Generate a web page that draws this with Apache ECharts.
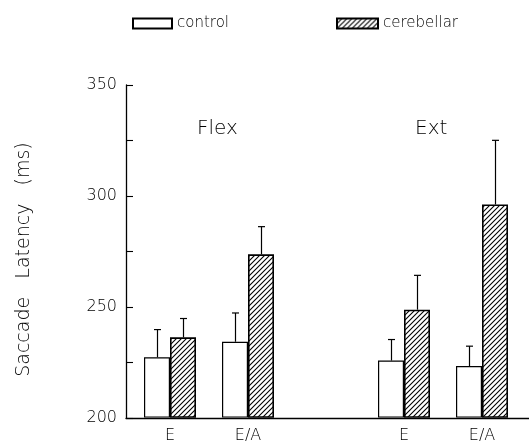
<!DOCTYPE html>
<html>
<head>
<meta charset="utf-8">
<script src="https://cdn.jsdelivr.net/npm/echarts@6/dist/echarts.min.js"></script>
<style>
  html, body { margin: 0; padding: 0; background: #fff; }
  #chart { width: 529px; height: 444px; }
</style>
</head>
<body>
<div id="chart"></div>
<script>
// Categories along the x axis (blank slot separates Flex and Ext groups)
const categories = ['E', 'E/A', '', 'E', 'E/A'];
// Mean saccade latency (ms)
const controlMean    = [227, 234, null, 225.5, 223];
const cerebellarMean = [236, 273.5, null, 248.5, 296];
// Upper end of each error bar (ms)
const controlUpper    = [239.5, 247, null, 235, 232];
const cerebellarUpper = [244.5, 286, null, 264, 325];
// Y axis range; labels every 50 ms, ticks every 25 ms
const yMin = 200, yMax = 350, yTickStep = 25, yLabelStep = 50;

const FONT = 'DejaVu Sans';
const WEIGHT = 200;
const INK = '#000';

// Diagonal hatch pattern for the cerebellar bars
function makeHatch() {
  const s = 5;
  const c = document.createElement('canvas');
  c.width = s; c.height = s;
  const g = c.getContext('2d');
  g.fillStyle = '#fff';
  g.fillRect(0, 0, s, s);
  g.strokeStyle = '#000';
  g.lineWidth = 1.1;
  g.beginPath();
  g.moveTo(-1, s + 1); g.lineTo(s + 1, -1);
  g.moveTo(-1, 1); g.lineTo(1, -1);
  g.moveTo(s - 1, s + 1); g.lineTo(s + 1, s - 1);
  g.stroke();
  return c;
}
const hatch = { image: makeHatch(), repeat: 'repeat' };

const BAR_W = 26;

function errData(means, uppers) {
  const out = [];
  means.forEach((m, i) => { if (m != null) out.push([i, m, uppers[i]]); });
  return out;
}

// Upward-only error bar with a short cap, offset to sit over its bar
function errSeries(means, uppers, dx) {
  return {
    type: 'custom',
    xAxisIndex: 0, yAxisIndex: 0,
    silent: true,
    z: 5,
    data: errData(means, uppers),
    encode: { x: 0, y: [1, 2] },
    renderItem: function (params, api) {
      const a = api.coord([api.value(0), api.value(1)]);
      const b = api.coord([api.value(0), api.value(2)]);
      const x = Math.round(a[0] + dx) + 0.5;
      const st = { stroke: '#000', lineWidth: 1.2 };
      return {
        type: 'group',
        children: [
          { type: 'line', shape: { x1: x, y1: a[1], x2: x, y2: b[1] }, style: st },
          { type: 'line', shape: { x1: x - 3.5, y1: b[1], x2: x + 3.5, y2: b[1] }, style: st }
        ]
      };
    }
  };
}

const textBase = { fontFamily: FONT, fontWeight: WEIGHT, color: INK };

const chart = echarts.init(document.getElementById('chart'), null, { renderer: 'canvas' });

chart.setOption({
  animation: false,
  backgroundColor: '#fff',
  textStyle: textBase,
  grid: [
    { left: 131, width: 390, top: 85, bottom: 26 },
    { left: 126, right: 0, top: 85, bottom: 26 }
  ],
  legend: [
    {
      data: ['control'], left: 127, top: 11, icon: 'rect',
      itemWidth: 39, itemHeight: 10, itemGap: 0,
      textStyle: Object.assign({ fontSize: 15 }, textBase),
      selectedMode: false
    },
    {
      data: ['cerebellar'], left: 331, top: 11, icon: 'rect',
      itemWidth: 41, itemHeight: 10, itemGap: 0,
      textStyle: Object.assign({ fontSize: 15 }, textBase),
      selectedMode: false
    }
  ],
  xAxis: [
    {
      type: 'category', gridIndex: 0, data: categories,
      axisLine: { show: false }, axisTick: { show: false },
      axisLabel: Object.assign({ fontSize: 16, margin: 11 }, textBase)
    },
    {
      type: 'value', gridIndex: 1, min: 0, max: 1,
      axisLine: { show: true, onZero: false, lineStyle: { color: '#000', width: 1.3 } },
      axisTick: { show: false }, axisLabel: { show: false }, splitLine: { show: false }
    }
  ],
  yAxis: [
    {
      type: 'value', gridIndex: 0, min: yMin, max: yMax, interval: yTickStep,
      show: false
    },
    {
      type: 'value', gridIndex: 1, min: yMin, max: yMax, interval: yTickStep,
      name: 'Saccade   Latency   (ms)',
      nameLocation: 'middle', nameGap: 92,
      nameTextStyle: Object.assign({ fontSize: 19, padding: [0, 16, 0, 0] }, textBase),
      axisLine: { show: true, onZero: false, lineStyle: { color: '#000', width: 1.3 } },
      axisTick: { show: true, inside: true, length: 7, lineStyle: { color: '#000', width: 1.1 } },
      axisLabel: Object.assign({
        fontSize: 16, margin: 9,
        formatter: v => (v % yLabelStep === 0 ? String(v) : '')
      }, textBase),
      splitLine: { show: false }
    }
  ],
  graphic: [
    { type: 'text', left: 197, top: 119, style: { text: 'Flex', font: '200 20px "DejaVu Sans"', fill: INK } },
    { type: 'text', left: 415, top: 119, style: { text: 'Ext', font: '200 20px "DejaVu Sans"', fill: INK } }
  ],
  series: [
    {
      name: 'control', type: 'bar', xAxisIndex: 0, yAxisIndex: 0,
      data: controlMean, barWidth: BAR_W, barGap: '0%',
      itemStyle: { color: '#fff', borderColor: '#000', borderWidth: 1.2 }
    },
    {
      name: 'cerebellar', type: 'bar', xAxisIndex: 0, yAxisIndex: 0,
      data: cerebellarMean, barWidth: BAR_W, barGap: '0%',
      itemStyle: { color: hatch, borderColor: '#000', borderWidth: 1.6 }
    },
    errSeries(controlMean, controlUpper, -BAR_W / 2),
    errSeries(cerebellarMean, cerebellarUpper, BAR_W / 2)
  ]
});
</script>
</body>
</html>
